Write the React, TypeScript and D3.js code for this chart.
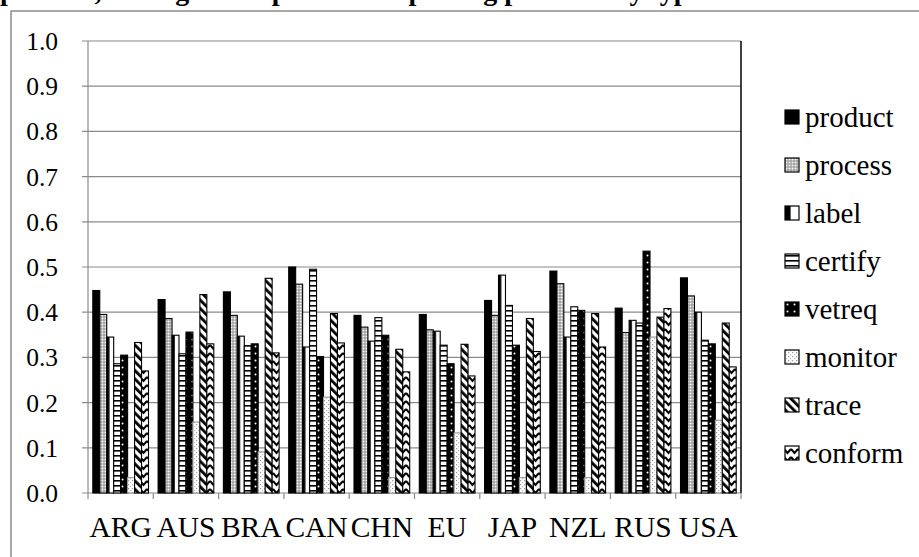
import React from "react";
import * as d3 from "d3";

const categories = ["ARG", "AUS", "BRA", "CAN", "CHN", "EU", "JAP", "NZL", "RUS", "USA"];
const seriesNames = ["product", "process", "label", "certify", "vetreq", "monitor", "trace", "conform"];
const product = [0.448, 0.428, 0.445, 0.5, 0.393, 0.395, 0.426, 0.491, 0.409, 0.476];
const processV = [0.395, 0.386, 0.393, 0.462, 0.367, 0.361, 0.393, 0.463, 0.355, 0.436];
const label = [0.345, 0.349, 0.347, 0.323, 0.336, 0.358, 0.482, 0.345, 0.382, 0.4];
const certify = [0.286, 0.308, 0.326, 0.495, 0.388, 0.327, 0.415, 0.412, 0.376, 0.338];
const vetreq = [0.305, 0.356, 0.33, 0.302, 0.349, 0.286, 0.327, 0.404, 0.535, 0.33];
const monitor = [0.034, 0.157, 0.091, 0.212, 0.034, 0.133, 0.034, 0.034, 0.345, 0.161];
const trace = [0.333, 0.439, 0.475, 0.397, 0.318, 0.329, 0.386, 0.397, 0.389, 0.376];
const conform = [0.27, 0.33, 0.31, 0.332, 0.268, 0.259, 0.313, 0.323, 0.408, 0.279];
const yTicks = [0, 0.1, 0.2, 0.3, 0.4, 0.5, 0.6, 0.7, 0.8, 0.9, 1.0];
const titleText = "product, among the import and exporting partners by type";

const seriesValues = [product, processV, label, certify, vetreq, monitor, trace, conform];
const fills = ["#000", "url(#pProcess)", "url(#pLabel)", "url(#pCertify)", "url(#pVetreq)", "url(#pMonitor)", "url(#pTrace)", "url(#pConform)"];
const strokes = ["#000", "#000", "#000", "#000", "#000", "#999", "#000", "#000"];

const W = 919, H = 557;
const L = 88, R = 741, T = 41, B = 493;
const FONT = "Liberation Serif";
const fs = (size: number, extra: any = {}) => ({ fontFamily: FONT, fontSize: size, ...extra });

export default function App() {
  const x = d3.scaleBand<string>().domain(categories).range([L, R]).paddingInner(0.147).paddingOuter(0.0735);
  const xs = d3.scaleBand<string>().domain(seriesNames).range([0, x.bandwidth()]).padding(0);
  const y = d3.scaleLinear().domain([0, 1]).range([B, T]);
  const step = x.step();
  const boundaries = d3.range(categories.length + 1).map((i) => L + i * step);

  return (
    <svg width={W} height={H} style={{ position: "absolute", left: 0, top: 0, background: "#fff" }}>
      <defs>
        <pattern id="pProcess" patternUnits="userSpaceOnUse" width="3" height="3">
          <rect width="3" height="3" fill="#c4c4c4" />
          <rect x="0" y="0" width="1" height="1" fill="#fff" />
          <rect x="1.5" y="1.5" width="1" height="1" fill="#555" />
        </pattern>
        <pattern id="pLabel" patternContentUnits="objectBoundingBox" width="1" height="1">
          <rect width="1" height="1" fill="#fff" />
          <rect width="0.4" height="1" fill="#000" />
        </pattern>
        <pattern id="pCertify" patternUnits="userSpaceOnUse" width="8" height="5">
          <rect width="8" height="5" fill="#fff" />
          <rect width="8" height="1.6" fill="#000" />
        </pattern>
        <pattern id="pVetreq" patternUnits="userSpaceOnUse" width="7" height="7">
          <rect width="7" height="7" fill="#000" />
          <circle cx="3.5" cy="3.5" r="1" fill="#fff" />
        </pattern>
        <pattern id="pMonitor" patternUnits="userSpaceOnUse" width="4" height="4">
          <rect width="4" height="4" fill="#fff" />
          <rect x="0" y="0" width="1.2" height="1.2" fill="#999" />
          <rect x="2" y="2" width="1.2" height="1.2" fill="#bbb" />
        </pattern>
        <pattern id="pTrace" patternUnits="userSpaceOnUse" width="6" height="6" patternTransform="rotate(-45)">
          <rect width="6" height="6" fill="#fff" />
          <rect width="2.8" height="6" fill="#000" />
        </pattern>
        <pattern id="pConform" patternUnits="userSpaceOnUse" width="7" height="8">
          <rect width="7" height="8" fill="#fff" />
          <path d="M0,1 L3.5,5 L7,1" fill="none" stroke="#000" strokeWidth="2" />
        </pattern>
      </defs>

      <text x={0} y={0} style={fs(28, { fontWeight: "bold" })}>{titleText}</text>

      <rect x={11} y={11} width={W} height={H} fill="none" stroke="#8c8c8c" strokeWidth={1.5} />

      {yTicks.map((t) => (
        <g key={t}>
          <line x1={L - 6} x2={R} y1={y(t)} y2={y(t)} stroke="#8a8a8a" strokeWidth={1.2} />
          <text x={58} y={y(t)} dy="0.35em" textAnchor="end" style={fs(25.5)}>{t.toFixed(1)}</text>
        </g>
      ))}
      <line x1={L} x2={L} y1={T} y2={B} stroke="#8a8a8a" strokeWidth={1.2} />
      {boundaries.map((bx, i) => (
        <line key={i} x1={bx} x2={bx} y1={B} y2={B + 6} stroke="#8a8a8a" strokeWidth={1.2} />
      ))}

      {categories.map((c, ci) => (
        <g key={c}>
          {seriesNames.map((s, si) => {
            const v = seriesValues[si][ci];
            const bx = (x(c) as number) + (xs(s) as number);
            return (
              <rect key={s} x={bx} y={y(v)} width={xs.bandwidth()} height={B - y(v)}
                fill={fills[si]} stroke={strokes[si]} strokeWidth={1.1} />
            );
          })}
          <text x={(x(c) as number) + x.bandwidth() / 2} y={537} textAnchor="middle" style={fs(29.5)}>{c}</text>
        </g>
      ))}

      <line x1={R} x2={R} y1={T} y2={B} stroke="#000" strokeWidth={1.5} />

      {seriesNames.map((s, si) => {
        const by = 127 + si * 48;
        return (
          <g key={s}>
            <rect x={785} y={by - 17} width={14} height={14} fill={fills[si]} stroke="#000" strokeWidth={1.2} />
            <text x={805} y={by} style={fs(29)}>{s}</text>
          </g>
        );
      })}
    </svg>
  );
}
